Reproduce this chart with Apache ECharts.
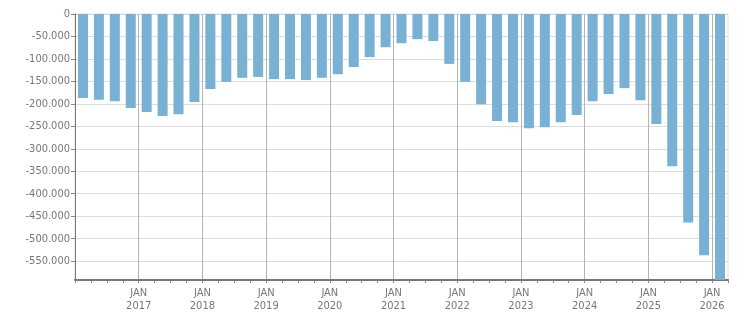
<!DOCTYPE html>
<html>
<head>
<meta charset="utf-8">
<script src="https://cdn.jsdelivr.net/npm/echarts@6/dist/echarts.min.js"></script>
<style>
html,body{margin:0;padding:0;background:#fff;}
#chart{width:751px;height:313px;}
</style>
</head>
<body>
<div id="chart"></div>
<script>
// Quarterly categories (Q1 2016 .. Q1 2026)
const quarters = [
  '2016 Q1','2016 Q2','2016 Q3','2016 Q4',
  '2017 Q1','2017 Q2','2017 Q3','2017 Q4',
  '2018 Q1','2018 Q2','2018 Q3','2018 Q4',
  '2019 Q1','2019 Q2','2019 Q3','2019 Q4',
  '2020 Q1','2020 Q2','2020 Q3','2020 Q4',
  '2021 Q1','2021 Q2','2021 Q3','2021 Q4',
  '2022 Q1','2022 Q2','2022 Q3','2022 Q4',
  '2023 Q1','2023 Q2','2023 Q3','2023 Q4',
  '2024 Q1','2024 Q2','2024 Q3','2024 Q4',
  '2025 Q1','2025 Q2','2025 Q3','2025 Q4',
  '2026 Q1'
];
// Values
const values = [
  -187000, -191000, -194000, -209000,
  -218000, -227000, -223000, -196000,
  -167000, -151000, -142000, -140000,
  -145000, -145000, -147000, -142000,
  -134000, -118000, -96000, -74000,
  -65000, -56000, -60000, -111000,
  -151000, -201000, -238000, -241000,
  -254000, -252000, -241000, -225000,
  -194000, -178000, -165000, -192000,
  -245000, -339000, -464000, -537000,
  -592000
];
const yMin = -592000;
const monthLabel = 'JAN';

function fmt(v) {
  const s = Math.abs(Math.round(v)).toString().replace(/\B(?=(\d{3})+(?!\d))/g, '.');
  return (v < 0 ? '-' : '') + s;
}

const FONT = "Tahoma, 'DejaVu Sans Condensed', 'Liberation Sans', Arial, sans-serif";
const TXT = '#777';
const n = quarters.length;

const chart = echarts.init(document.getElementById('chart'), null, {renderer: 'canvas'});
chart.setOption({
  animation: false,
  grid: {left: 75, right: 23, top: 14, bottom: 33, show: true, borderColor: '#dddddd', borderWidth: 1},
  xAxis: [{
    type: 'value', min: 0, max: n, interval: 1, position: 'bottom',
    axisLine: {show: true, onZero: false, lineStyle: {color: '#777', width: 2}},
    axisTick: {show: true, length: 3, lineStyle: {color: '#888'}},
    splitLine: {show: false},
    axisLabel: {
      show: true, color: TXT, fontFamily: FONT, fontSize: 11, lineHeight: 13, margin: 7,
      showMinLabel: true, showMaxLabel: true,
      formatter: function (v) {
        if (v > 0 && v < n && v % 4 === 0) return monthLabel + '\n' + quarters[v].slice(0, 4);
        return '';
      }
    }
  }, {
    type: 'value', min: 0, max: n, interval: 4, position: 'bottom',
    axisLine: {show: false, onZero: false}, axisTick: {show: false}, axisLabel: {show: false},
    splitLine: {show: true, showMinLine: false, showMaxLine: false, lineStyle: {color: '#b4b4b4', width: 1}}
  }],
  yAxis: {
    type: 'value', min: yMin, max: 0, splitNumber: 12,
    axisLine: {show: true, onZero: false, lineStyle: {color: '#777', width: 1}},
    axisTick: {show: true, length: 4, lineStyle: {color: '#888'}},
    splitLine: {show: true, lineStyle: {color: '#dddddd', width: 1}},
    axisLabel: {
      color: TXT, fontFamily: FONT, fontSize: 11, margin: 5, showMinLabel: false,
      formatter: function (v) { return (v % 50000 === 0) ? fmt(v) : ''; }
    }
  },
  series: [{
    type: 'bar', xAxisIndex: 0, barWidth: 10,
    itemStyle: {color: '#78b1d4'},
    data: values.map((v, i) => [i + 0.5, v])
  }]
});
</script>
</body>
</html>
